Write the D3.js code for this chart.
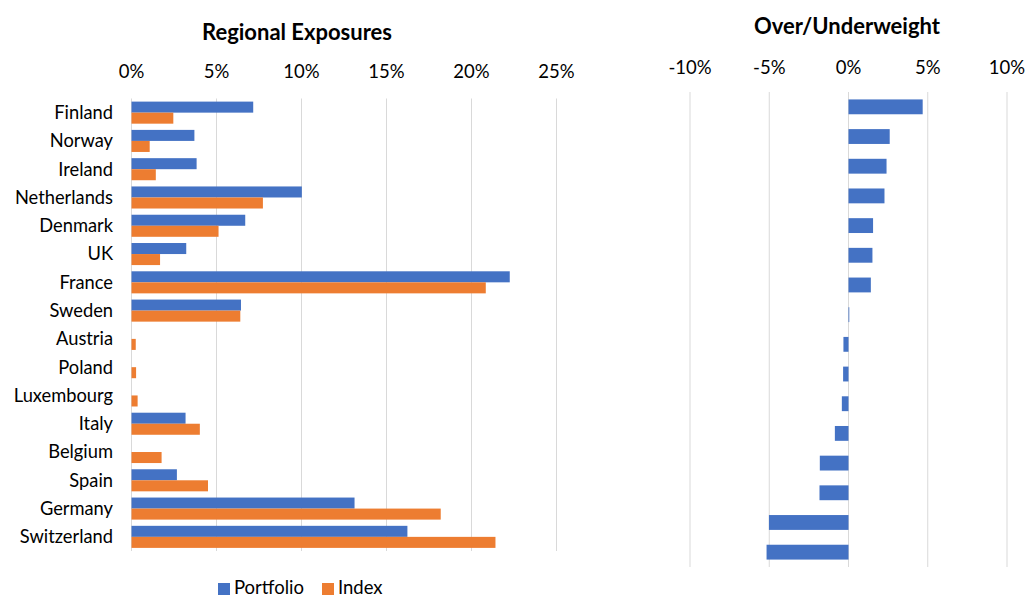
<!DOCTYPE html>
<html>
<head>
<meta charset="utf-8">
<script src="https://cdn.jsdelivr.net/npm/d3@7"></script>
<style>
  body { margin: 0; background: #fff; }
  svg text { font-family: Lato, "Open Sans", sans-serif; fill: #000; }
</style>
</head>
<body>
<div id="graph"></div>
<script>
let width = 1025;
let height = 597;

let countries = ['Finland', 'Norway', 'Ireland', 'Netherlands', 'Denmark', 'UK', 'France', 'Sweden',
    'Austria', 'Poland', 'Luxembourg', 'Italy', 'Belgium', 'Spain', 'Germany', 'Switzerland'];
let portfolio = [7.16, 3.7, 3.83, 10.02, 6.69, 3.22, 22.25, 6.44, 0, 0, 0, 3.18, 0, 2.67, 13.12, 16.23];
let index = [2.46, 1.07, 1.43, 7.73, 5.12, 1.68, 20.84, 6.40, 0.25, 0.27, 0.36, 4.02, 1.77, 4.50, 18.19, 21.41];
let overUnder = [4.68, 2.6, 2.4, 2.27, 1.55, 1.51, 1.41, 0.05, -0.32, -0.34, -0.42, -0.86, -1.81, -1.83, -5.02, -5.17];
let leftTicks = [0, 5, 10, 15, 20, 25];
let rightTicks = [-10, -5, 0, 5, 10];
let seriesNames = ['Portfolio', 'Index'];
let colors = ['#4472C4', '#ED7D31'];

let svg = d3.select('#graph')
    .append('svg')
        .attr('width', width)
        .attr('height', height);

// left panel: regional exposures
let x = d3.scaleLinear().domain([0, 25]).range([131.5, 556.5]);
let y = d3.scaleBand().domain(countries).range([98.5, 551]).paddingInner(0.22).paddingOuter(0.11);
let sub = d3.scaleBand().domain(seriesNames).range([0, y.bandwidth()]);

let left = svg.append('g');

left.append('g')
    .selectAll('line')
    .data(leftTicks)
    .enter().append('line')
        .attr('x1', (d) => x(d)).attr('x2', (d) => x(d))
        .attr('y1', 98.5).attr('y2', 551)
        .attr('stroke', '#d9d9d9')
        .attr('stroke-width', 1);

left.append('g')
    .selectAll('text')
    .data(leftTicks)
    .enter().append('text')
        .attr('x', (d) => x(d))
        .attr('y', 72)
        .attr('dy', '0.35em')
        .attr('text-anchor', 'middle')
        .attr('font-size', 18.5)
        .text((d) => d + '%');

let rows = left.selectAll('.row')
    .data(countries)
    .enter().append('g')
        .attr('class', 'row')
        .attr('transform', (d) => 'translate(0,' + y(d) + ')');

rows.append('rect')
    .attr('x', x(0))
    .attr('y', sub('Portfolio'))
    .attr('width', (d, i) => x(portfolio[i]) - x(0))
    .attr('height', sub.bandwidth())
    .attr('fill', colors[0]);

rows.append('rect')
    .attr('x', x(0))
    .attr('y', sub('Index'))
    .attr('width', (d, i) => x(index[i]) - x(0))
    .attr('height', sub.bandwidth())
    .attr('fill', colors[1]);

rows.append('text')
    .attr('x', 113)
    .attr('y', y.bandwidth() / 2)
    .attr('dy', '0.35em')
    .attr('text-anchor', 'end')
    .attr('font-size', 18.3)
    .text((d) => d);

svg.append('text')
    .attr('x', 297)
    .attr('y', 32)
    .attr('dy', '0.35em')
    .attr('text-anchor', 'middle')
    .attr('font-size', 22)
    .attr('font-weight', 'bold')
    .text('Regional Exposures');

// legend
let legend = svg.append('g').attr('transform', 'translate(218,588)');
let legendX = [0, 104];
seriesNames.forEach((name, i) => {
    legend.append('rect')
        .attr('x', legendX[i]).attr('y', -5)
        .attr('width', 12).attr('height', 12)
        .attr('fill', colors[i]);
    legend.append('text')
        .attr('x', legendX[i] + 16).attr('y', 0)
        .attr('dy', '0.35em')
        .attr('font-size', 18.5)
        .text(name);
});

// right panel: over/underweight
let x2 = d3.scaleLinear().domain([-10, 10]).range([690, 1007]);
let y2 = d3.scaleBand().domain(countries).range([92, 567]).paddingInner(0.5).paddingOuter(0.25);

let right = svg.append('g');

right.append('g')
    .selectAll('line')
    .data(rightTicks)
    .enter().append('line')
        .attr('x1', (d) => x2(d)).attr('x2', (d) => x2(d))
        .attr('y1', 92).attr('y2', 567)
        .attr('stroke', '#d9d9d9')
        .attr('stroke-width', 1);

right.append('g')
    .selectAll('text')
    .data(rightTicks)
    .enter().append('text')
        .attr('x', (d) => x2(d))
        .attr('y', 68)
        .attr('dy', '0.35em')
        .attr('text-anchor', 'middle')
        .attr('font-size', 18.5)
        .text((d) => d + '%');

right.selectAll('.bar')
    .data(countries)
    .enter().append('rect')
        .attr('class', 'bar')
        .attr('x', (d, i) => x2(Math.min(0, overUnder[i])))
        .attr('y', (d) => y2(d))
        .attr('width', (d, i) => Math.abs(x2(overUnder[i]) - x2(0)))
        .attr('height', y2.bandwidth())
        .attr('fill', colors[0]);

svg.append('text')
    .attr('x', 847)
    .attr('y', 26)
    .attr('dy', '0.35em')
    .attr('text-anchor', 'middle')
    .attr('font-size', 22)
    .attr('font-weight', 'bold')
    .text('Over/Underweight');
</script>
</body>
</html>
